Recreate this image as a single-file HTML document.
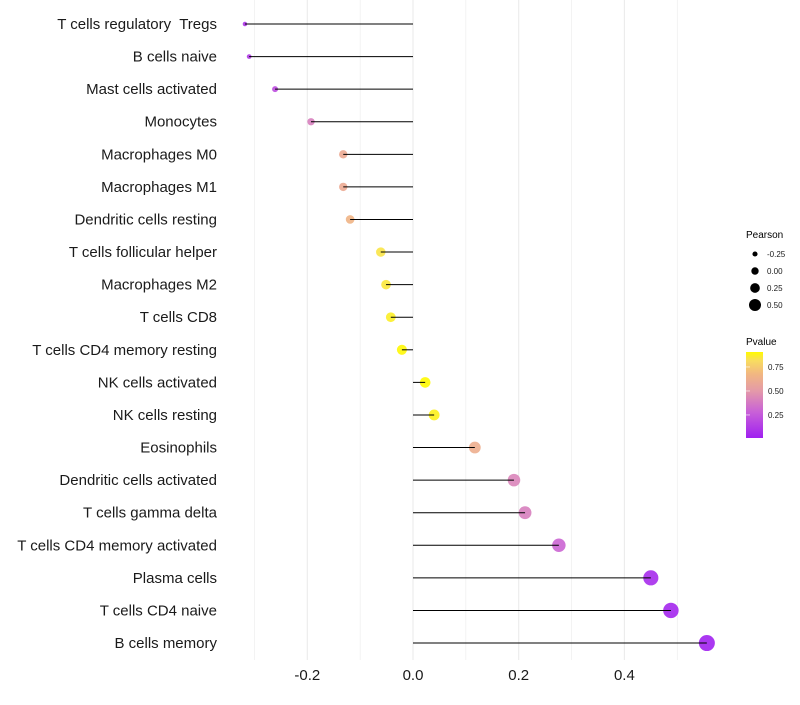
<!DOCTYPE html>
<html><head><meta charset="utf-8"><style>
body{margin:0;background:#fff;font-family:"Liberation Sans",sans-serif}
text{white-space:pre}
</style></head><body>
<svg id="chart" width="800" height="700" xmlns="http://www.w3.org/2000/svg" font-family="Liberation Sans, sans-serif">
<defs><linearGradient id="pg" x1="0" y1="1" x2="0" y2="0"></linearGradient></defs>
<g id="grid"></g>
<g id="marks"></g>
<g id="ylabels"></g>
<g id="xlabels"></g>
<g>
<text x="746" y="238" font-size="10">Pearson</text>
<g id="sizeleg"></g>
</g>
<g>
<text x="746" y="345" font-size="10">Pvalue</text>
<rect x="746" y="352" width="17" height="86" fill="url(#pg)"/>
<g id="colleg"></g>
</g>
</svg>
<script>
const categories=["T cells regulatory  Tregs","B cells naive","Mast cells activated","Monocytes","Macrophages M0","Macrophages M1","Dendritic cells resting","T cells follicular helper","Macrophages M2","T cells CD8","T cells CD4 memory resting","NK cells activated","NK cells resting","Eosinophils","Dendritic cells activated","T cells gamma delta","T cells CD4 memory activated","Plasma cells","T cells CD4 naive","B cells memory"];
const pearson=[-0.318,-0.310,-0.261,-0.193,-0.132,-0.132,-0.119,-0.061,-0.051,-0.042,-0.021,0.023,0.040,0.117,0.191,0.212,0.276,0.450,0.488,0.556];
const pvalues=[0.10,0.12,0.20,0.40,0.60,0.60,0.66,0.84,0.85,0.87,0.90,0.92,0.88,0.62,0.42,0.40,0.30,0.06,0.04,0.02];
const xTicks=[-0.2,0.0,0.2,0.4];
const xTickLabels=["-0.2","0.0","0.2","0.4"];
const sizeLegend=[-0.25,0.00,0.25,0.50];
const sizeLegendLabels=["-0.25","0.00","0.25","0.50"];
const colorLegend=[0.75,0.50,0.25];
const colorLegendLabels=["0.75","0.50","0.25"];
const NS="http://www.w3.org/2000/svg";
const x=v=>413+v*528.5;
const y=i=>24+i*32.58;
const r=v=>Math.sqrt(5+68*Math.max(0,v+0.318));
const rl=v=>3.7+4.6*v;
const pmin=0.01,pmax=0.906;
const py=p=>438-(p-pmin)/(pmax-pmin)*86;
const stops=[[0,[160,32,240]],[0.3,[200,96,216]],[0.55,[228,154,168]],[0.75,[242,184,128]],[0.9,[248,220,96]],[1,[255,250,0]]];
function col(p){let t=Math.max(0,Math.min(1,(p-pmin)/(pmax-pmin)));
for(let k=1;k<stops.length;k++){if(t<=stops[k][0]){const a=stops[k-1],b=stops[k];const u=(t-a[0])/(b[0]-a[0]);
return `rgb(${a[1].map((c,j)=>Math.round(c+(b[1][j]-c)*u)).join(",")})`;}}return "rgb(255,250,0)";}
const g=document.getElementById("pg");
stops.forEach(s=>{const e=document.createElementNS(NS,"stop");e.setAttribute("offset",s[0]);e.setAttribute("stop-color",`rgb(${s[1].join(",")})`);g.appendChild(e);});
function mk(tag,a,parent,text){const e=document.createElementNS(NS,tag);for(const k in a)e.setAttribute(k,a[k]);if(text!==undefined)e.textContent=text;document.getElementById(parent).appendChild(e);return e;}
for(let v=-0.3;v<=0.55;v+=0.1){const e=mk("line",{x1:x(v),x2:x(v),y1:0,y2:660,stroke:"#ebebeb","stroke-width":Math.abs((Math.round(v*10))%2)==0?1.1:0.6},"grid");

}
categories.forEach((c,i)=>{
const p=mk("circle",{cx:x(pearson[i]),cy:y(i),r:r(pearson[i]),fill:col(pvalues[i]),opacity:0.9},"marks");


const l=mk("line",{x1:x(0),x2:x(pearson[i]),y1:y(i),y2:y(i),stroke:"#000","stroke-width":1},"marks");


const t=mk("text",{x:217,y:y(i)+5,"text-anchor":"end","font-size":15,fill:"#1a1a1a"},"ylabels",c);


});
xTicks.forEach((v,i)=>{const t=mk("text",{x:x(v),y:680,"text-anchor":"middle","font-size":15,fill:"#1a1a1a"},"xlabels",xTickLabels[i]);

});
sizeLegend.forEach((v,i)=>{const cy=254+i*17;
const c=mk("circle",{cx:755,cy:cy,r:rl(v),fill:"#000"},"sizeleg");


const t=mk("text",{x:767,y:cy+3,"font-size":8,fill:"#1a1a1a"},"sizeleg",sizeLegendLabels[i]);

});
colorLegend.forEach((v,i)=>{const yy=py(v);
const l=mk("line",{x1:746,x2:750,y1:yy,y2:yy,stroke:"#fff","stroke-width":0.6},"colleg");


const t=mk("text",{x:768,y:yy+3,"font-size":8,fill:"#1a1a1a"},"colleg",colorLegendLabels[i]);

});
</script>
</body></html>
